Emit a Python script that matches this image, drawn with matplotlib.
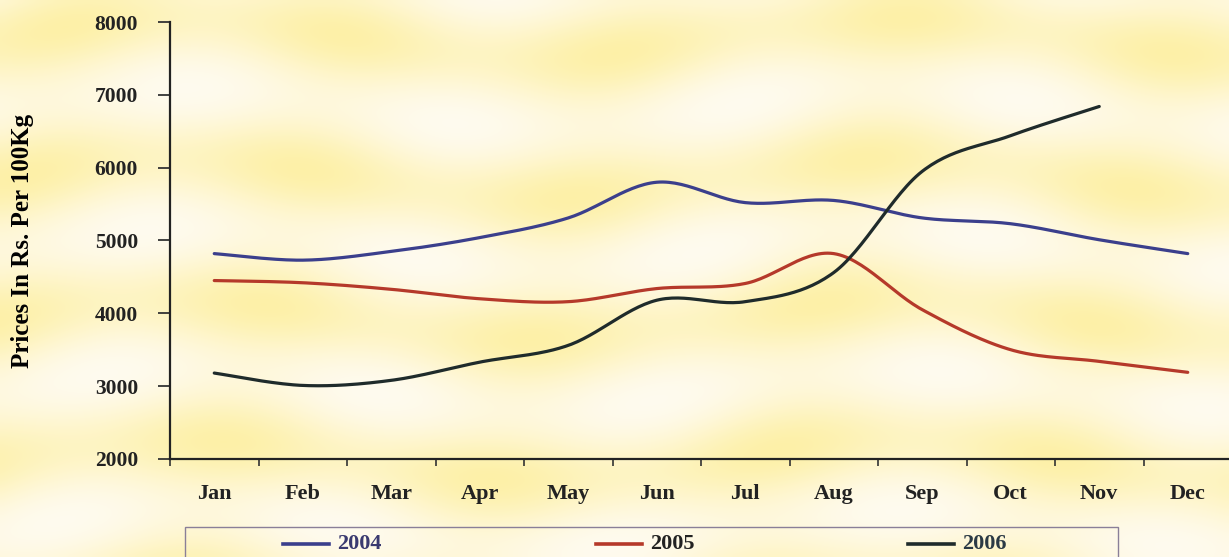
import numpy as np
import matplotlib
matplotlib.use("Agg")
import matplotlib.pyplot as plt
from matplotlib.patches import Rectangle
from matplotlib.lines import Line2D

months = ["Jan", "Feb", "Mar", "Apr", "May", "Jun", "Jul", "Aug", "Sep", "Oct", "Nov", "Dec"]
years = ["2004", "2005", "2006"]
prices_2004 = [4820, 4730, 4850, 5040, 5310, 5800, 5520, 5550, 5310, 5230, 5010, 4820]
prices_2005 = [4450, 4420, 4330, 4200, 4160, 4340, 4410, 4820, 4050, 3500, 3340, 3190]
prices_2006 = [3180, 3010, 3080, 3330, 3560, 4180, 4160, 4560, 5950, 6440, 6840]
yticks = [2000, 3000, 4000, 5000, 6000, 7000, 8000]

colors = ["#3b3f8c", "#b5392a", "#1f2b2b"]
legend_text_colors = ["#3a3a70", "#222222", "#2b3a45"]
serif = "Liberation Serif"


def smooth(xs, ys, n=30, t=1 / 6):
    # cubic bezier through the points, like a spreadsheet "smoothed line"
    xs = np.asarray(xs, float)
    ys = np.asarray(ys, float)
    px, py = [], []
    for i in range(len(xs) - 1):
        i0 = max(i - 1, 0)
        i3 = min(i + 2, len(xs) - 1)
        c1x = xs[i] + (xs[i + 1] - xs[i0]) * t
        c1y = ys[i] + (ys[i + 1] - ys[i0]) * t
        c2x = xs[i + 1] - (xs[i3] - xs[i]) * t
        c2y = ys[i + 1] - (ys[i3] - ys[i]) * t
        s = np.linspace(0, 1, n)
        px.extend((1 - s) ** 3 * xs[i] + 3 * (1 - s) ** 2 * s * c1x + 3 * (1 - s) * s ** 2 * c2x + s ** 3 * xs[i + 1])
        py.extend((1 - s) ** 3 * ys[i] + 3 * (1 - s) ** 2 * s * c1y + 3 * (1 - s) * s ** 2 * c2y + s ** 3 * ys[i + 1])
    return px, py


W, H = 1229, 557
fig = plt.figure(figsize=(W / 100, H / 100), dpi=100)

# mottled yellow paper background, mostly horizontal bands
bg = fig.add_axes([0, 0, 1, 1], zorder=-5)
gx, gy = np.meshgrid(np.linspace(0, 12, 240), np.linspace(0, 6, 110))
v = (0.55 + 0.3 * np.sin(gy * 4.1 + 0.9 * np.sin(gx * 0.9)) + 0.15 * np.sin(gx * 2.3 + gy * 0.6)) ** 1.3
v = np.clip(v, 0, 1)
light = np.array([1.0, 0.985, 0.95])
yellow = np.array([0.99, 0.92, 0.50])
img = light[None, None, :] * (1 - v[..., None] * 0.65) + yellow[None, None, :] * (v[..., None] * 0.65)
bg.imshow(img, aspect="auto", interpolation="bicubic")
bg.axis("off")

ax = fig.add_axes([170 / W, 98 / H, 1062 / W, 437 / H])
ax.set_facecolor("none")

for vals, col in zip([prices_2004, prices_2005, prices_2006], colors):
    sx, sy = smooth(range(len(vals)), vals)
    ax.plot(sx, sy, color=col, lw=2.3, solid_capstyle="round")

ax.set_xlim(-0.5, 11.5)
ax.set_ylim(2000, 8000)
ax.set_yticks(yticks)
ax.set_yticklabels([str(v) for v in yticks], fontfamily=serif, fontweight="bold", fontsize=15.5, color="#222222")
ax.set_xticks(np.arange(len(months)))
ax.set_xticklabels(months, fontfamily=serif, fontweight="bold", fontsize=16, color="#222222")
ax.set_xticks(np.arange(-0.5, 12, 1), minor=True)
ax.tick_params(axis="x", which="major", length=0, pad=18)
ax.tick_params(axis="x", which="minor", length=5, width=1.2, color="#333333", direction="out")
ax.tick_params(axis="y", length=9, width=1.3, color="#333333", pad=14)
for side in ["top", "right"]:
    ax.spines[side].set_visible(False)
for side in ["left", "bottom"]:
    ax.spines[side].set_linewidth(1.6)
    ax.spines[side].set_color("#222222")
ax.set_ylabel("Prices In Rs. Per 100Kg", fontfamily=serif, fontweight="bold", fontsize=18)
ax.yaxis.set_label_coords(-136 / 1062, 0.5)

# legend box at the bottom, partly cut by the figure edge
fig.patches.append(Rectangle((185 / W, -20 / H), 933 / W, 50 / H, transform=fig.transFigure,
                             fill=False, edgecolor="#8a7f98", lw=1.0))
starts = [283, 596, 908]
for x0, yr, col, tcol in zip(starts, years, colors, legend_text_colors):
    yy = (557 - 544) / H
    fig.lines.append(Line2D([x0 / W, (x0 + 46) / W], [yy, yy], transform=fig.transFigure, color=col, lw=2.6))
    fig.text((x0 + 54) / W, yy, yr, fontfamily=serif, fontweight="bold", fontsize=16,
             color=tcol, va="center", ha="left")

fig.savefig("out.png", dpi=100)
